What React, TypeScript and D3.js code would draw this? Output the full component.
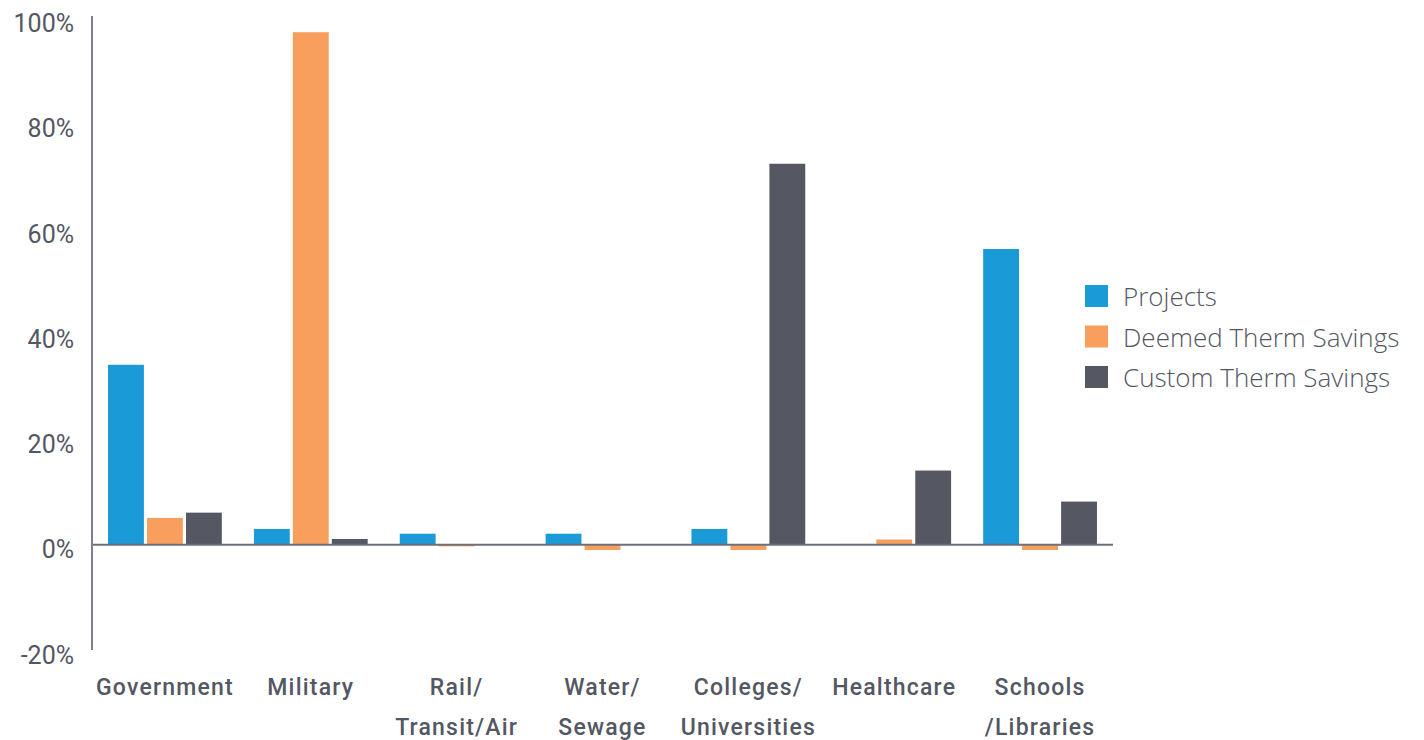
import React from "react";
import * as d3 from "d3";

const categories = [
  "Government",
  "Military",
  "Rail/\nTransit/Air",
  "Water/\nSewage",
  "Colleges/\nUniversities",
  "Healthcare",
  "Schools\n/Libraries",
];
const seriesNames = ["Projects", "Deemed Therm Savings", "Custom Therm Savings"];
const projects = [34.2, 3.0, 2.1, 2.1, 3.0, 0.15, 56.2];
const deemed = [5.1, 97.4, -0.3, -1.0, -1.0, 1.0, -1.0];
const custom = [6.1, 1.1, 0.1, 0.05, 72.4, 14.1, 8.2];
const yTicks = [-20, 0, 20, 40, 60, 80, 100];
const colors = ["#1a9ad6", "#f89f5e", "#555863"];

export default function App() {
  const W = 1424;
  const H = 740;
  const x0 = 92;
  const x1 = 1113;
  const y = d3.scaleLinear().domain([-20, 100]).range([650, 18.5]);
  const xBand = d3.scaleBand<string>().domain(categories).range([x0, x1]).paddingInner(0.22).paddingOuter(0.11);
  const xInner = d3.scaleBand<string>().domain(seriesNames).range([0, xBand.bandwidth()]).paddingInner(0.08);
  const series = [projects, deemed, custom];
  const textColor = "#535763";
  return (
    <svg width={W} height={H} style={{ position: "absolute", left: 0, top: 0, background: "#fff" }}>
      {series.map((vals, si) =>
        vals.map((v, ci) => {
          const cx = (xBand(categories[ci]) as number) + (xInner(seriesNames[si]) as number);
          const yTop = y(Math.max(0, v));
          const yBot = y(Math.min(0, v));
          return (
            <rect
              key={`${si}-${ci}`}
              x={cx}
              y={yTop}
              width={xInner.bandwidth()}
              height={Math.max(0.5, yBot - yTop)}
              fill={colors[si]}
            />
          );
        })
      )}
      <line x1={x0} x2={x1} y1={y(0)} y2={y(0)} stroke="#6d707a" strokeWidth={2} />
      <line x1={x0} x2={x0} y1={16} y2={650} stroke="#7d808a" strokeWidth={2} />
      {yTicks.map((t) => (
        <text
          key={t}
          x={74}
          y={y(t) + 7}
          textAnchor="end"
          dominantBaseline="middle"
          fontFamily="Roboto, sans-serif"
          fontSize={25}
          fill={textColor}
        >
          {t + "%"}
        </text>
      ))}
      {categories.map((c) => {
        const lines = c.split("\n");
        const cx = (xBand(c) as number) + xBand.bandwidth() / 2;
        return (
          <text
            key={c}
            x={cx}
            textAnchor="middle"
            fontFamily="Roboto, sans-serif"
            fontWeight={500}
            fontSize={23}
            letterSpacing={1.2}
            fill={textColor}
          >
            {lines.map((l, i) => (
              <tspan key={i} x={cx} y={695 + i * 40}>
                {l}
              </tspan>
            ))}
          </text>
        );
      })}
      {seriesNames.map((s, i) => (
        <g key={s} transform={`translate(1085, ${285 + i * 40.5})`}>
          <rect x={0} y={0} width={23} height={22} fill={colors[i]} />
          <text x={38} y={11} dominantBaseline="central" fontFamily="'Open Sans', sans-serif" fontWeight={300} fontSize={26} fill={textColor}>
            {s}
          </text>
        </g>
      ))}
    </svg>
  );
}
